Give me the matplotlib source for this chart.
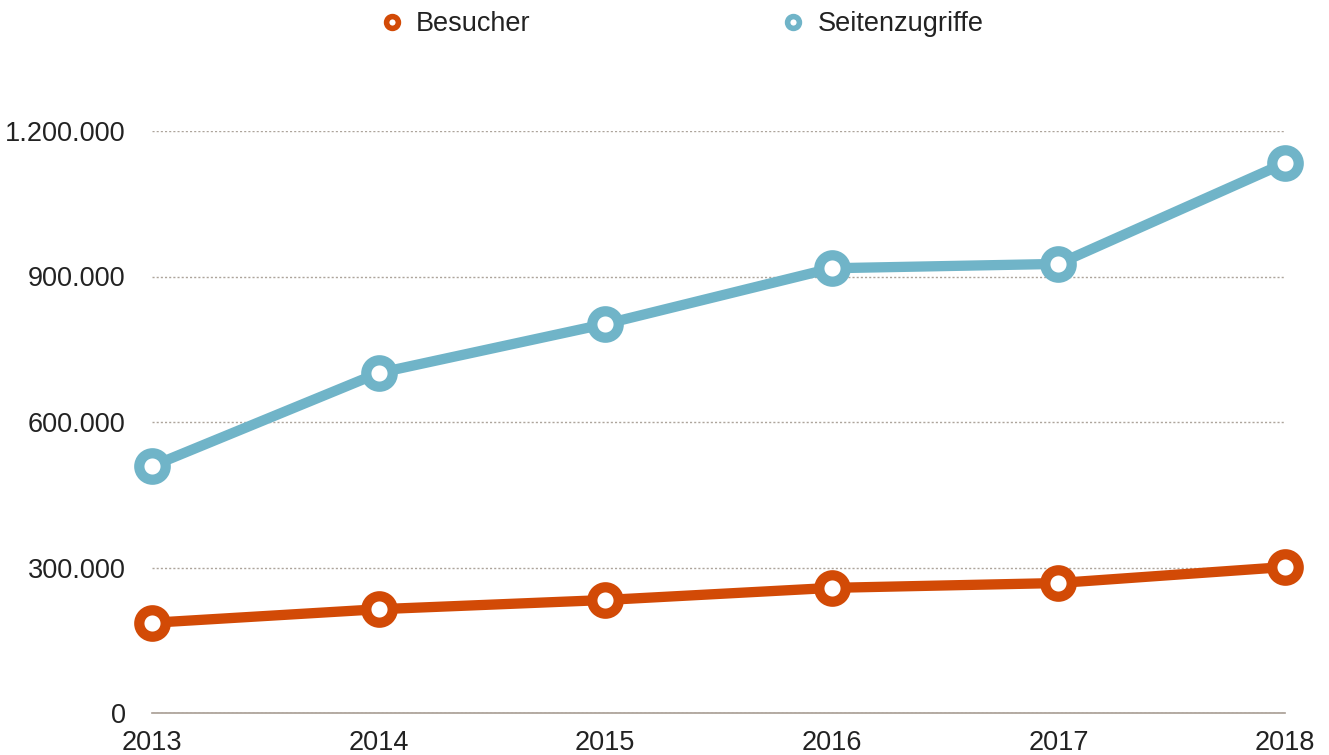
import matplotlib.pyplot as plt
from matplotlib.lines import Line2D
from matplotlib.ticker import FuncFormatter

plt.rcParams['font.family'] = ['Liberation Sans', 'DejaVu Sans']

years = [2013, 2014, 2015, 2016, 2017, 2018]
besucher = [186000, 214000, 233000, 258000, 268000, 301000]
seitenzugriffe = [509000, 701000, 802000, 917000, 926000, 1134000]
yticks = [0, 300000, 600000, 900000, 1200000]

orange = '#d24a06'
blue = '#70b4c8'
grid_col = '#ada49b'

fig = plt.figure(figsize=(13.29, 7.55), dpi=100)
ax = fig.add_axes([152 / 1329, 1 - 713 / 755, (1285 - 152) / 1329, (713 - 131) / 755])

for vals, col in [(seitenzugriffe, blue), (besucher, orange)]:
    ax.plot(years, vals, color=col, lw=7.4, marker='o', ms=19, mew=7.4,
            mfc='white', mec=col, clip_on=False, zorder=3)

ax.set_xlim(2013, 2018)
ax.set_ylim(0, 1200000)
ax.set_xticks(years)
ax.set_yticks(yticks)
ax.yaxis.set_major_formatter(FuncFormatter(lambda v, p: f'{int(v):,}'.replace(',', '.')))

ax.grid(axis='y', color=grid_col, linestyle=(0, (1.5, 1.5)), lw=1)
ax.set_axisbelow(True)
for s in ['top', 'right', 'left']:
    ax.spines[s].set_visible(False)
ax.spines['bottom'].set_color('#a89d94')
ax.spines['bottom'].set_linewidth(1.2)
ax.tick_params(length=0, labelsize=19.5, colors='#222222')
ax.tick_params(axis='y', pad=19)
ax.tick_params(axis='x', pad=12)

handles = [
    Line2D([], [], linestyle='none', marker='o', ms=8.5, mew=4, mfc='white', mec=orange),
    Line2D([], [], linestyle='none', marker='o', ms=8.5, mew=4, mfc='white', mec=blue),
]
fig.legend(handles, ['Besucher', 'Seitenzugriffe'], loc='center', ncol=2,
           bbox_to_anchor=(681 / 1329, 1 - 24 / 755), frameon=False, fontsize=19.5,
           labelcolor='#222222', handlelength=1.0, handletextpad=0.4, columnspacing=9.2)

fig.savefig('out.png', dpi=100, facecolor='white')
